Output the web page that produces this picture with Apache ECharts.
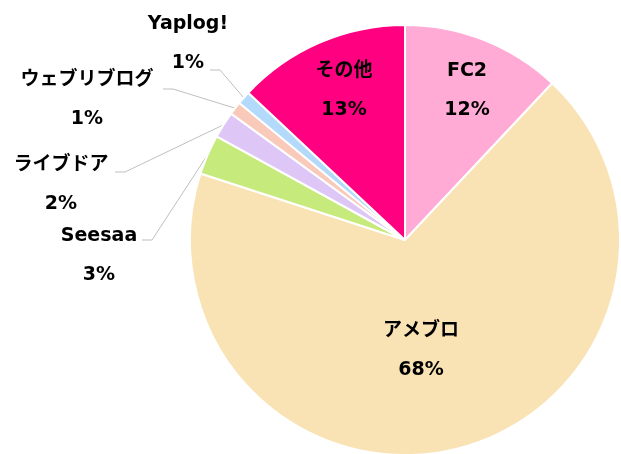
<!DOCTYPE html>
<html>
<head>
<meta charset="utf-8">
<script src="https://cdn.jsdelivr.net/npm/echarts@6/dist/echarts.min.js"></script>
<style>
  html, body { margin: 0; padding: 0; background: #fff; }
  #chart { width: 621px; height: 454px; }
</style>
</head>
<body>
<div id="chart"></div>
<script>
// ブログサービスのシェア (%)
const names = ['FC2', 'アメブロ', 'Seesaa', 'ライブドア', 'ウェブリブログ', 'Yaplog!', 'その他']
const shares = [12, 68, 3, 2, 1, 1, 13]
const colors = ['#FFABD6', '#F9E3B5', '#C6EA7C', '#DEC7F7', '#F9CABA', '#B4DAFB', '#FF0080']
// 小さい扇形はラベルを外に出す
const outside = [false, false, true, true, true, true, false]

// ラベル文字の中心 (px)
const labelPos = [
    [467, 91], [421, 351], [99, 256], [61, 185], [87, 100], [188, 44], [344, 91]
]
// 引き出し線がラベル側で終わる点
const lineEnd = [null, null, [142, 240], [115, 172], [163, 89], [210, 70], null]

const FONT = '"DejaVu Sans", "Noto Sans CJK JP", sans-serif'

let myChart = echarts.init(document.getElementById('chart'))

let pieBase = {
    type: 'pie',
    center: [405, 240],
    radius: [0, 215],
    startAngle: 90,
    clockwise: true,
    avoidLabelOverlap: false,
    emphasis: { disabled: true }
}

let option = {
    animation: false,
    series: [
        Object.assign({}, pieBase, {
            itemStyle: { borderColor: '#fff', borderWidth: 2 },
            label: {
                formatter: '{b}\n{c}%',
                fontFamily: FONT,
                fontWeight: 'bold',
                fontSize: 19,
                lineHeight: 39,
                color: '#000',
                align: 'center'
            },
            labelLine: { show: false },
            labelLayout: p => ({
                x: labelPos[p.dataIndex][0],
                y: labelPos[p.dataIndex][1],
                align: 'center',
                verticalAlign: 'middle'
            }),
            data: names.map((n, i) => ({
                name: n,
                value: shares[i],
                itemStyle: { color: colors[i] },
                label: { position: outside[i] ? 'outside' : 'inside' }
            }))
        }),
        // 引き出し線だけを描く透明な円
        Object.assign({}, pieBase, {
            silent: true,
            itemStyle: { color: 'rgba(0,0,0,0)', borderWidth: 0 },
            label: {
                formatter: ' ',
                fontSize: 2,
                width: 30,
                height: 2,
                color: 'rgba(0,0,0,0)',
                backgroundColor: 'rgba(0,0,0,0)'
            },
            labelLine: {
                length: 20,
                length2: 10,
                lineStyle: { color: '#BFBFBF', width: 1 }
            },
            labelLayout: p => lineEnd[p.dataIndex] ? {
                x: lineEnd[p.dataIndex][0],
                y: lineEnd[p.dataIndex][1],
                align: 'right',
                verticalAlign: 'middle'
            } : {},
            data: names.map((n, i) => ({
                name: n,
                value: shares[i],
                label: { show: outside[i], position: 'outside' },
                labelLine: { show: outside[i] }
            }))
        })
    ]
}
myChart.setOption(option)
</script>
</body>
</html>
